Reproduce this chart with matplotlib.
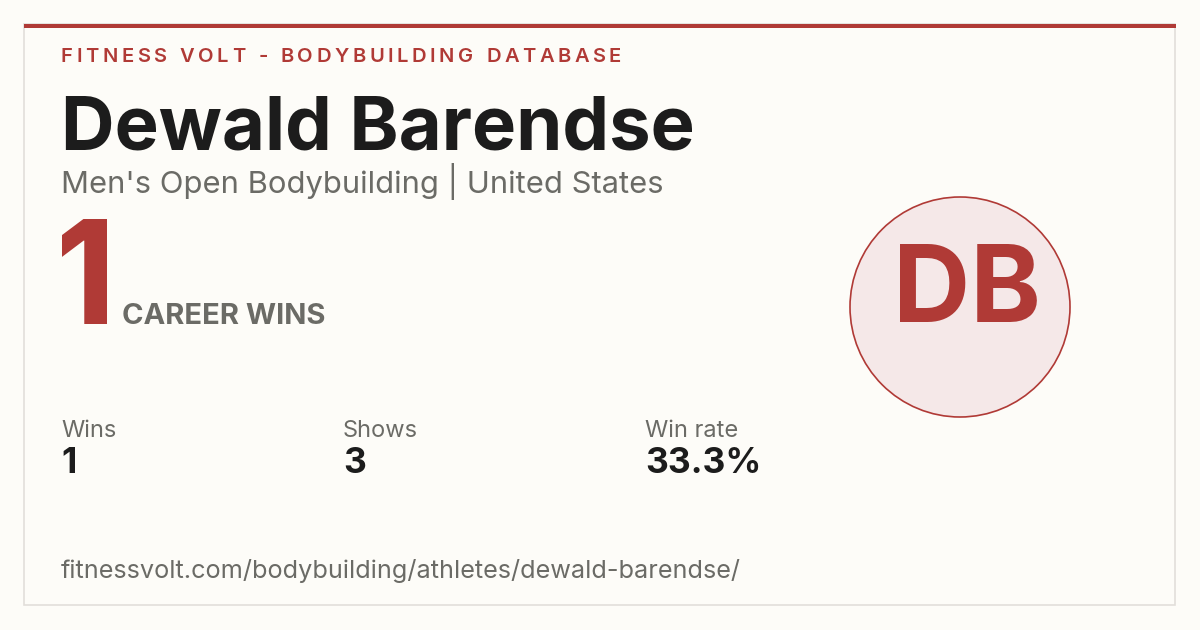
import matplotlib
matplotlib.use("Agg")
import matplotlib.pyplot as plt
from matplotlib.patches import Rectangle, Circle, PathPatch
from matplotlib.textpath import TextPath
from matplotlib.font_manager import FontProperties
from matplotlib.transforms import Affine2D

# card content
site_title = "FITNESS VOLT - BODYBUILDING DATABASE"
athlete = "Dewald Barendse"
subtitle = "Men's Open Bodybuilding | United States"
initials = "DB"
career_wins = 1
stat_labels = ["Wins", "Shows", "Win rate"]
stat_values = ["1", "3", "33.3%"]
stat_x = [61, 343, 645]
url = "fitnessvolt.com/bodybuilding/athletes/dewald-barendse/"

BG = "#fdfcf8"
RED = "#b03a36"
GRAY = "#6b6b66"
DARK = "#1c1c1c"
FONT = ["Inter", "DejaVu Sans"]

W, H = 1200, 630
fig = plt.figure(figsize=(W / 100, H / 100), dpi=100)
fig.patch.set_facecolor(BG)
ax = fig.add_axes([0, 0, 1, 1])
ax.set_xlim(0, W)
ax.set_ylim(H, 0)
ax.axis("off")
fig.canvas.draw()
renderer = fig.canvas.get_renderer()


def text_width(t):
    bb = t.get_window_extent(renderer=renderer)
    return bb.width


def fit_text(x, y, s, width, size=20, **kw):
    # draw text and rescale the size so it spans the given pixel width
    t = ax.text(x, y, s, fontsize=size, va="baseline", ha="left",
                family=FONT, **kw)
    w = text_width(t)
    t.set_fontsize(size * width / w)
    return t


def tracked_text(x, y, s, width, size, **kw):
    # letter-spaced text, drawn one glyph at a time
    glyphs = []
    total = 0
    for ch in s:
        t = ax.text(0, y, ch, fontsize=size, va="baseline", ha="left",
                    family=FONT, **kw)
        w = text_width(t) if ch != " " else size * 0.3 * 100 / 72
        glyphs.append((t, w))
        total += w
    gap = (width - total) / (len(s) - 1)
    cx = x
    for t, w in glyphs:
        t.set_x(cx)
        cx += w + gap


def boxed_glyphs(s, x0, x1, top, base, **kw):
    # text outline stretched into a pixel box (condensed display numerals)
    tp = TextPath((0, 0), s, size=100,
                  prop=FontProperties(family="Inter", weight="heavy"))
    ext = tp.get_extents()
    sx = (x1 - x0) / ext.width
    sy = (base - top) / ext.height
    tr = (Affine2D().translate(-ext.x0, -ext.y0)
          .scale(sx, -sy).translate(x0, base))
    ax.add_patch(PathPatch(tr.transform_path(tp), **kw))


# card frame
ax.add_patch(Rectangle((24, 24), 1151, 581, facecolor=BG,
                       edgecolor="#e2dfda", linewidth=1.2))
ax.add_patch(Rectangle((24, 24), 1152, 4, facecolor=RED, edgecolor="none"))

tracked_text(61, 62, site_title, 560, 14.5, color=RED, fontweight="semibold")
fit_text(61, 150, athlete, 634, 50, color=DARK, fontweight="bold")
fit_text(61, 193, subtitle, 601, 20, color=GRAY)

boxed_glyphs(str(career_wins), 62, 107, 219, 324,
             facecolor=RED, edgecolor="none")
fit_text(122, 324, "CAREER WINS", 204, 20, color=GRAY, fontweight="bold")

for sx, lab, val in zip(stat_x, stat_labels, stat_values):
    ax.text(sx, 437, lab, fontsize=17, va="baseline", ha="left",
            family=FONT, color=GRAY)
    ax.text(sx, 473, val, fontsize=25.5, va="baseline", ha="left",
            family=FONT, color=DARK, fontweight="bold")

fit_text(61, 578, url, 681, 17, color=GRAY)

# avatar circle
ax.add_patch(Circle((960, 307), 110, facecolor="#f5e8e8", edgecolor=RED,
                    linewidth=1.2))
ax.text(967, 294, initials, fontsize=77, va="center", ha="center",
        family=FONT, color=RED, fontweight="bold")

fig.savefig("out.png", dpi=100, facecolor=BG)
